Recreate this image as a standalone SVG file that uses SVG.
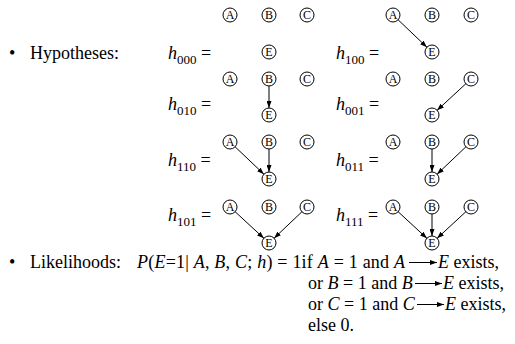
<svg xmlns="http://www.w3.org/2000/svg" width="515" height="344" viewBox="0 0 515 344">
<style>
text{font-family:"Liberation Serif","Times New Roman",serif;fill:#000}
.t{font-size:18px}
.i{font-style:italic}
.s{font-size:13px}
.n circle{fill:#fff;stroke:#000;stroke-width:1}
.n text{font-size:12px;text-anchor:middle}
.c line,.ta line{stroke:#000;stroke-width:1;marker-end:url(#ah)}
</style>
<defs>
<marker id="ah" viewBox="0 0 7 5" refX="7" refY="2.5" markerWidth="7" markerHeight="5" orient="auto" markerUnits="userSpaceOnUse"><path d="M0,0 L7,2.5 L0,5 z" fill="#000"/></marker>
</defs>
<rect width="515" height="344" fill="#fff"/>

<g id="labels">
<text class="t" x="9" y="59">•</text>
<text class="t" x="30" y="59">Hypotheses:</text>
<text class="t" x="168" y="59"><tspan class="i">h</tspan><tspan class="s" dy="5">000</tspan><tspan dy="-5"> =</tspan></text>
<text class="t" x="336" y="59"><tspan class="i">h</tspan><tspan class="s" dy="5">100</tspan><tspan dy="-5"> =</tspan></text>
<text class="t" x="168" y="110"><tspan class="i">h</tspan><tspan class="s" dy="5">010</tspan><tspan dy="-5"> =</tspan></text>
<text class="t" x="336" y="110"><tspan class="i">h</tspan><tspan class="s" dy="5">001</tspan><tspan dy="-5"> =</tspan></text>
<text class="t" x="168" y="166"><tspan class="i">h</tspan><tspan class="s" dy="5">110</tspan><tspan dy="-5"> =</tspan></text>
<text class="t" x="336" y="166"><tspan class="i">h</tspan><tspan class="s" dy="5">011</tspan><tspan dy="-5"> =</tspan></text>
<text class="t" x="168" y="221"><tspan class="i">h</tspan><tspan class="s" dy="5">101</tspan><tspan dy="-5"> =</tspan></text>
<text class="t" x="336" y="221"><tspan class="i">h</tspan><tspan class="s" dy="5">111</tspan><tspan dy="-5"> =</tspan></text>
</g>

<!-- h000 -->
<g id="h000-A" class="n"><circle cx="230" cy="15" r="7"/><text x="230" y="19">A</text></g>
<g id="h000-B" class="n"><circle cx="269" cy="15" r="7"/><text x="269" y="19">B</text></g>
<g id="h000-C" class="n"><circle cx="307" cy="15" r="7"/><text x="307" y="19">C</text></g>
<g id="h000-E" class="n"><circle cx="269" cy="52" r="7"/><text x="269" y="56">E</text></g>
<!-- h100 -->
<g id="h100-A" class="n"><circle cx="393" cy="15" r="7"/><text x="393" y="19">A</text></g>
<g id="h100-B" class="n"><circle cx="432" cy="15" r="7"/><text x="432" y="19">B</text></g>
<g id="h100-C" class="n"><circle cx="471" cy="15" r="7"/><text x="471" y="19">C</text></g>
<g id="h100-E" class="n"><circle cx="432" cy="52" r="7"/><text x="432" y="56">E</text></g>
<!-- h010 -->
<g id="h010-A" class="n"><circle cx="230" cy="79" r="7"/><text x="230" y="83">A</text></g>
<g id="h010-B" class="n"><circle cx="269" cy="79" r="7"/><text x="269" y="83">B</text></g>
<g id="h010-C" class="n"><circle cx="307" cy="79" r="7"/><text x="307" y="83">C</text></g>
<g id="h010-E" class="n"><circle cx="269" cy="115" r="7"/><text x="269" y="119">E</text></g>
<!-- h001 -->
<g id="h001-A" class="n"><circle cx="393" cy="79" r="7"/><text x="393" y="83">A</text></g>
<g id="h001-B" class="n"><circle cx="432" cy="79" r="7"/><text x="432" y="83">B</text></g>
<g id="h001-C" class="n"><circle cx="471" cy="79" r="7"/><text x="471" y="83">C</text></g>
<g id="h001-E" class="n"><circle cx="432" cy="115" r="7"/><text x="432" y="119">E</text></g>
<!-- h110 -->
<g id="h110-A" class="n"><circle cx="230" cy="142" r="7"/><text x="230" y="146">A</text></g>
<g id="h110-B" class="n"><circle cx="269" cy="142" r="7"/><text x="269" y="146">B</text></g>
<g id="h110-C" class="n"><circle cx="307" cy="142" r="7"/><text x="307" y="146">C</text></g>
<g id="h110-E" class="n"><circle cx="269" cy="179" r="7"/><text x="269" y="183">E</text></g>
<!-- h011 -->
<g id="h011-A" class="n"><circle cx="393" cy="142" r="7"/><text x="393" y="146">A</text></g>
<g id="h011-B" class="n"><circle cx="432" cy="142" r="7"/><text x="432" y="146">B</text></g>
<g id="h011-C" class="n"><circle cx="471" cy="142" r="7"/><text x="471" y="146">C</text></g>
<g id="h011-E" class="n"><circle cx="432" cy="179" r="7"/><text x="432" y="183">E</text></g>
<!-- h101 -->
<g id="h101-A" class="n"><circle cx="230" cy="207" r="7"/><text x="230" y="211">A</text></g>
<g id="h101-B" class="n"><circle cx="269" cy="207" r="7"/><text x="269" y="211">B</text></g>
<g id="h101-C" class="n"><circle cx="307" cy="207" r="7"/><text x="307" y="211">C</text></g>
<g id="h101-E" class="n"><circle cx="269" cy="243" r="7"/><text x="269" y="247">E</text></g>
<!-- h111 -->
<g id="h111-A" class="n"><circle cx="393" cy="207" r="7"/><text x="393" y="211">A</text></g>
<g id="h111-B" class="n"><circle cx="432" cy="207" r="7"/><text x="432" y="211">B</text></g>
<g id="h111-C" class="n"><circle cx="471" cy="207" r="7"/><text x="471" y="211">C</text></g>
<g id="h111-E" class="n"><circle cx="432" cy="243" r="7"/><text x="432" y="247">E</text></g>

<g id="connectors" class="c">
<line x1="398.1" y1="19.8" x2="426.9" y2="47.2"/>
<line x1="269" y1="86" x2="269" y2="108"/>
<line x1="465.9" y1="83.7" x2="437.1" y2="110.3"/>
<line x1="235.1" y1="146.8" x2="263.9" y2="174.2"/>
<line x1="269" y1="149" x2="269" y2="172"/>
<line x1="432" y1="149" x2="432" y2="172"/>
<line x1="465.9" y1="146.8" x2="437.1" y2="174.2"/>
<line x1="235.1" y1="211.7" x2="263.9" y2="238.3"/>
<line x1="301.9" y1="211.8" x2="274.1" y2="238.2"/>
<line x1="398.1" y1="211.7" x2="426.9" y2="238.3"/>
<line x1="432" y1="214" x2="432" y2="236"/>
<line x1="465.9" y1="211.7" x2="437.1" y2="238.3"/>
</g>

<g id="likelihoods">
<text class="t" x="9" y="268">•</text>
<text class="t" x="30" y="268">Likelihoods:</text>
<text class="t" x="137" y="268" textLength="268" lengthAdjust="spacing"><tspan class="i">P</tspan>(<tspan class="i">E</tspan>=1| <tspan class="i">A</tspan>, <tspan class="i">B</tspan>, <tspan class="i">C</tspan>; <tspan class="i">h</tspan>) = 1if <tspan class="i">A</tspan> = 1 and <tspan class="i">A</tspan></text>
<text class="t" x="438" y="268"><tspan class="i">E</tspan> exists,</text>
<text class="t" x="308" y="289">or <tspan class="i">B</tspan> = 1 and <tspan class="i">B</tspan></text>
<text class="t" x="443" y="289"><tspan class="i">E</tspan> exists,</text>
<text class="t" x="308" y="310">or <tspan class="i">C</tspan> = 1 and <tspan class="i">C</tspan></text>
<text class="t" x="445" y="310"><tspan class="i">E</tspan> exists,</text>
<text class="t" x="308" y="331">else 0.</text>
</g>
<g id="text-arrows" class="ta">
<line x1="409" y1="262.5" x2="437" y2="262.5"/>
<line x1="415" y1="283.5" x2="442" y2="283.5"/>
<line x1="417" y1="304.5" x2="444" y2="304.5"/>
</g>
</svg>
